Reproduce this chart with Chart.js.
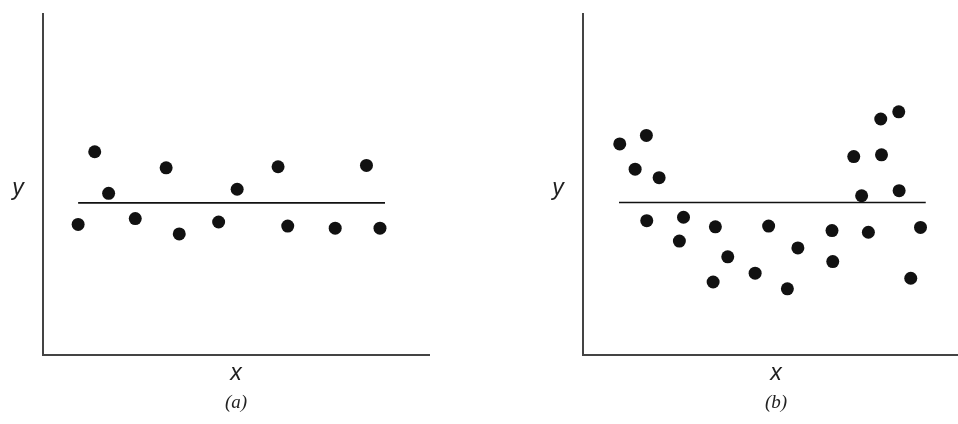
<!DOCTYPE html>
<html>
<head>
<meta charset="utf-8">
<script src="https://cdn.jsdelivr.net/npm/chart.js@4/dist/chart.umd.min.js"></script>
<style>
  html, body { margin: 0; padding: 0; background: #fff; }
  #wrap { position: relative; width: 958px; height: 424px; overflow: hidden; background: #fff; }
  canvas { position: absolute; top: 0; }
  .lbl { position: absolute; color: #222; white-space: nowrap; transform: translate(-50%, -50%); }
  .ax { font-family: "Liberation Sans", Arial, sans-serif; font-style: italic; font-size: 23px; }
  .cap { font-family: "Liberation Serif", "Times New Roman", serif; font-style: italic; font-size: 19px; }
</style>
</head>
<body>
<div id="wrap">
  <canvas id="ca" width="479" height="424" style="left:0px"></canvas>
  <canvas id="cb" width="500" height="424" style="left:479px"></canvas>
  <div class="lbl ax" style="left:18px; top:187px;">y</div>
  <div class="lbl ax" style="left:236px; top:372px;">x</div>
  <div class="lbl cap" style="left:236px; top:402px;">(a)</div>
  <div class="lbl ax" style="left:558px; top:187px;">y</div>
  <div class="lbl ax" style="left:776px; top:372px;">x</div>
  <div class="lbl cap" style="left:776px; top:402px;">(b)</div>
</div>
<script>
// Panel (a): residuals scattered evenly around the fitted line
const aX = [9.1, 13.4, 17.0, 23.9, 31.9, 35.3, 45.5, 50.3, 60.9, 63.4, 75.7, 83.8, 87.3];
const aY = [38.3, 59.6, 47.4, 40.0, 54.9, 35.5, 39.0, 48.6, 55.2, 37.8, 37.2, 55.6, 37.2];
const aLineX = [9.1, 88.6];
const aLineY = [44.6, 44.6];

// Panel (b): curved pattern around the fitted line
const bX = [9.8, 16.9, 13.9, 20.3, 17.0, 26.8, 25.7, 35.3, 38.6, 34.7, 45.9, 49.5, 54.5,
            57.3, 66.4, 66.6, 72.2, 74.3, 76.1, 79.4, 79.6, 84.2, 84.3, 87.4, 90.0];
const bY = [61.9, 64.4, 54.5, 52.0, 39.4, 40.4, 33.4, 37.6, 28.8, 21.4, 24.0, 37.8, 19.4,
            31.4, 36.5, 27.4, 58.2, 46.7, 36.0, 69.2, 58.7, 71.3, 48.2, 22.5, 37.4];
const bLineX = [9.6, 91.4];
const bLineY = [44.7, 44.7];

const zip = (xs, ys) => xs.map((x, i) => ({ x: x, y: ys[i] }));

function makeChart(id, xs, ys, lx, ly, padding) {
  return new Chart(document.getElementById(id), {
    type: 'scatter',
    data: {
      datasets: [
        {
          type: 'line',
          data: zip(lx, ly),
          borderColor: '#111',
          borderWidth: 1.6,
          pointRadius: 0,
          fill: false
        },
        {
          data: zip(xs, ys),
          backgroundColor: '#111',
          borderWidth: 0,
          pointRadius: 6.5,
          pointHoverRadius: 6.5
        }
      ]
    },
    options: {
      responsive: false,
      animation: false,
      events: [],
      layout: { padding: padding },
      plugins: { legend: { display: false }, tooltip: { enabled: false } },
      scales: {
        x: {
          type: 'linear', min: 0, max: 100,
          grid: { display: false, drawTicks: false },
          ticks: { display: false },
          border: { display: true, color: '#444', width: 2 }
        },
        y: {
          type: 'linear', min: 0, max: 100,
          grid: { display: false, drawTicks: false },
          ticks: { display: false },
          border: { display: true, color: '#444', width: 2 }
        }
      }
    }
  });
}

makeChart('ca', aX, aY, aLineX, aLineY, { left: 43, top: 14, right: 50, bottom: 69 });
makeChart('cb', bX, bY, bLineX, bLineY, { left: 104, top: 14, right: 21, bottom: 69 });
</script>
</body>
</html>
